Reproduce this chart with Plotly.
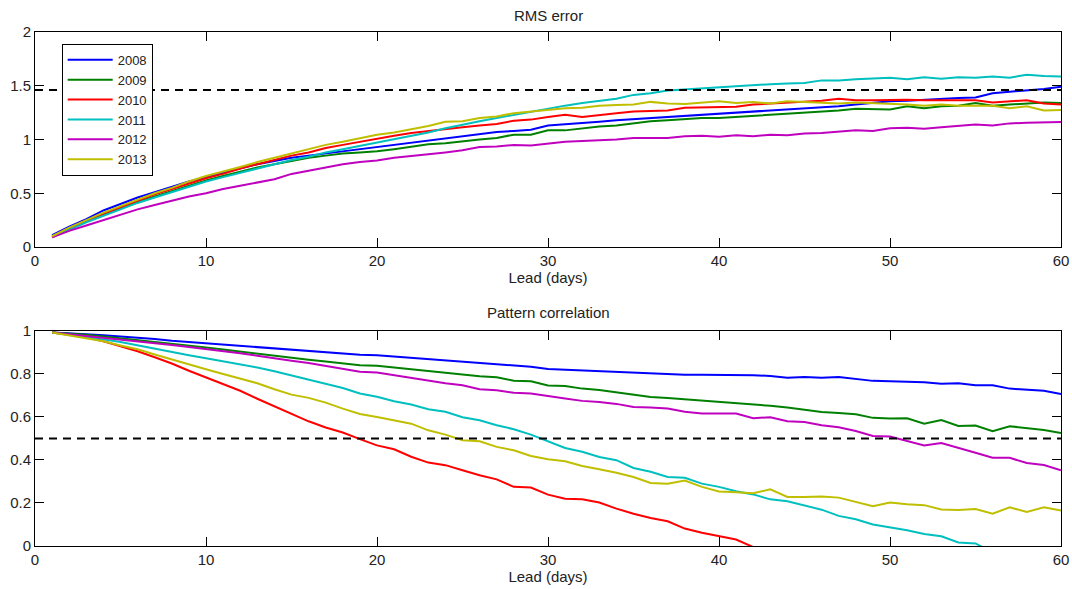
import plotly.graph_objects as go
from plotly.subplots import make_subplots

lead = list(range(1, 61))

years = ["2008", "2009", "2010", "2011", "2012", "2013"]
colors = ["#0000ff", "#008000", "#ff0000", "#00bfbf", "#bf00bf", "#bfbf00"]

# RMS error per year, lead 1..60
rms_2008 = [0.11, 0.19, 0.26, 0.34, 0.40, 0.46, 0.51, 0.56, 0.61, 0.65,
            0.69, 0.73, 0.77, 0.80, 0.83, 0.85, 0.87, 0.89, 0.91, 0.93,
            0.95, 0.97, 0.99, 1.01, 1.03, 1.05, 1.07, 1.08, 1.09, 1.13,
            1.14, 1.155, 1.165, 1.18, 1.19, 1.20, 1.21, 1.22, 1.23, 1.24,
            1.25, 1.255, 1.27, 1.275, 1.29, 1.30, 1.31, 1.325, 1.34, 1.355,
            1.36, 1.37, 1.375, 1.385, 1.39, 1.43, 1.445, 1.455, 1.47, 1.49]
rms_2009 = [0.10, 0.17, 0.24, 0.30, 0.36, 0.42, 0.47, 0.52, 0.57, 0.62,
            0.66, 0.70, 0.74, 0.77, 0.80, 0.83, 0.85, 0.87, 0.88, 0.89,
            0.91, 0.935, 0.955, 0.965, 0.985, 1.00, 1.015, 1.045, 1.045, 1.085,
            1.085, 1.105, 1.12, 1.13, 1.15, 1.17, 1.18, 1.19, 1.20, 1.20,
            1.21, 1.22, 1.225, 1.235, 1.245, 1.26, 1.27, 1.285, 1.285, 1.28,
            1.31, 1.29, 1.31, 1.315, 1.34, 1.315, 1.325, 1.335, 1.345, 1.34]
rms_2010 = [0.09, 0.17, 0.24, 0.31, 0.37, 0.43, 0.49, 0.54, 0.59, 0.64,
            0.68, 0.73, 0.77, 0.81, 0.85, 0.88, 0.92, 0.95, 0.98, 1.01,
            1.035, 1.06, 1.08, 1.10, 1.115, 1.13, 1.145, 1.175, 1.185, 1.21,
            1.23, 1.21, 1.23, 1.245, 1.26, 1.265, 1.27, 1.295, 1.30, 1.30,
            1.305, 1.325, 1.335, 1.345, 1.35, 1.36, 1.38, 1.365, 1.365, 1.37,
            1.37, 1.365, 1.365, 1.365, 1.365, 1.345, 1.355, 1.365, 1.335, 1.325]
rms_2011 = [0.10, 0.16, 0.23, 0.29, 0.35, 0.41, 0.46, 0.51, 0.56, 0.61,
            0.65, 0.69, 0.73, 0.77, 0.81, 0.84, 0.88, 0.91, 0.94, 0.97,
            1.00, 1.035, 1.065, 1.105, 1.14, 1.17, 1.20, 1.23, 1.26, 1.285,
            1.315, 1.34, 1.36, 1.38, 1.415, 1.43, 1.455, 1.465, 1.475, 1.485,
            1.495, 1.51, 1.515, 1.52, 1.525, 1.55, 1.55, 1.56, 1.57, 1.575,
            1.56, 1.578, 1.565, 1.578, 1.575, 1.585, 1.575, 1.603, 1.59, 1.587]
rms_2012 = [0.09, 0.15, 0.20, 0.25, 0.30, 0.35, 0.39, 0.43, 0.47, 0.50,
            0.54, 0.57, 0.60, 0.63, 0.68, 0.71, 0.74, 0.77, 0.79, 0.805,
            0.83, 0.845, 0.86, 0.88, 0.90, 0.93, 0.935, 0.95, 0.945, 0.965,
            0.98, 0.985, 0.99, 1.00, 1.015, 1.015, 1.015, 1.03, 1.035, 1.025,
            1.04, 1.03, 1.045, 1.04, 1.055, 1.06, 1.07, 1.085, 1.08, 1.105,
            1.11, 1.10, 1.115, 1.125, 1.14, 1.13, 1.15, 1.155, 1.16, 1.163]
rms_2013 = [0.10, 0.18, 0.25, 0.32, 0.38, 0.44, 0.50, 0.55, 0.61, 0.66,
            0.70, 0.745, 0.79, 0.83, 0.87, 0.91, 0.95, 0.98, 1.01, 1.045,
            1.065, 1.095, 1.125, 1.165, 1.17, 1.20, 1.215, 1.245, 1.26, 1.27,
            1.29, 1.295, 1.315, 1.32, 1.325, 1.35, 1.335, 1.33, 1.345, 1.355,
            1.34, 1.35, 1.335, 1.355, 1.35, 1.34, 1.335, 1.345, 1.34, 1.335,
            1.325, 1.315, 1.325, 1.315, 1.315, 1.315, 1.29, 1.31, 1.27, 1.275]

# pattern correlation per year, lead 1..60 (None once the curve is below 0)
cor_2008 = [0.993, 0.990, 0.985, 0.980, 0.975, 0.969, 0.963, 0.955, 0.949, 0.941,
            0.935, 0.929, 0.923, 0.917, 0.912, 0.906, 0.900, 0.894, 0.889, 0.887,
            0.881, 0.875, 0.869, 0.862, 0.856, 0.850, 0.844, 0.839, 0.834, 0.823,
            0.820, 0.816, 0.813, 0.808, 0.805, 0.802, 0.800, 0.797, 0.797, 0.797,
            0.794, 0.794, 0.791, 0.783, 0.786, 0.782, 0.786, 0.778, 0.768, 0.766,
            0.765, 0.762, 0.755, 0.757, 0.748, 0.748, 0.732, 0.726, 0.722, 0.707]
cor_2009 = [0.993, 0.988, 0.982, 0.974, 0.966, 0.958, 0.949, 0.940, 0.932, 0.923,
            0.914, 0.904, 0.895, 0.884, 0.875, 0.866, 0.858, 0.849, 0.841, 0.838,
            0.830, 0.822, 0.813, 0.805, 0.799, 0.790, 0.785, 0.769, 0.766, 0.747,
            0.744, 0.732, 0.726, 0.716, 0.705, 0.693, 0.688, 0.682, 0.676, 0.673,
            0.665, 0.658, 0.652, 0.644, 0.634, 0.623, 0.619, 0.613, 0.596, 0.593,
            0.594, 0.569, 0.586, 0.558, 0.560, 0.534, 0.557, 0.549, 0.540, 0.526]
cor_2010 = [0.993, 0.983, 0.971, 0.952, 0.930, 0.906, 0.878, 0.849, 0.815, 0.784,
            0.752, 0.722, 0.685, 0.650, 0.616, 0.580, 0.551, 0.528, 0.497, 0.468,
            0.450, 0.415, 0.388, 0.376, 0.352, 0.329, 0.310, 0.275, 0.272, 0.239,
            0.220, 0.217, 0.202, 0.174, 0.150, 0.130, 0.115, 0.081, 0.062, 0.047,
            0.030, -0.005, None, None, None, None, None, None, None, None,
            None, None, None, None, None, None, None, None, None, None]
cor_2011 = [0.993, 0.983, 0.974, 0.961, 0.949, 0.933, 0.918, 0.902, 0.887, 0.873,
            0.859, 0.845, 0.830, 0.813, 0.794, 0.776, 0.757, 0.735, 0.709, 0.694,
            0.673, 0.658, 0.636, 0.624, 0.599, 0.585, 0.562, 0.543, 0.518, 0.487,
            0.456, 0.438, 0.414, 0.399, 0.363, 0.345, 0.321, 0.317, 0.290, 0.275,
            0.255, 0.240, 0.217, 0.208, 0.190, 0.169, 0.140, 0.124, 0.100, 0.088,
            0.073, 0.056, 0.045, 0.016, 0.012, -0.03, None, None, None, None]
cor_2012 = [0.993, 0.985, 0.977, 0.969, 0.961, 0.954, 0.944, 0.935, 0.926, 0.917,
            0.907, 0.896, 0.885, 0.875, 0.862, 0.851, 0.838, 0.822, 0.810, 0.807,
            0.794, 0.782, 0.769, 0.757, 0.748, 0.729, 0.724, 0.713, 0.709, 0.696,
            0.686, 0.675, 0.670, 0.661, 0.647, 0.644, 0.639, 0.624, 0.616, 0.616,
            0.616, 0.594, 0.599, 0.580, 0.577, 0.562, 0.552, 0.535, 0.512, 0.509,
            0.487, 0.468, 0.479, 0.455, 0.434, 0.411, 0.410, 0.386, 0.377, 0.352]
cor_2013 = [0.993, 0.980, 0.968, 0.952, 0.933, 0.915, 0.891, 0.867, 0.843, 0.822,
            0.800, 0.778, 0.757, 0.729, 0.704, 0.689, 0.667, 0.639, 0.614, 0.600,
            0.585, 0.569, 0.538, 0.518, 0.492, 0.487, 0.461, 0.445, 0.419, 0.403,
            0.394, 0.372, 0.357, 0.341, 0.321, 0.293, 0.290, 0.304, 0.275, 0.254,
            0.250, 0.245, 0.264, 0.228, 0.228, 0.230, 0.225, 0.205, 0.185, 0.202,
            0.194, 0.190, 0.170, 0.168, 0.172, 0.150, 0.180, 0.158, 0.180, 0.165]

rms = [rms_2008, rms_2009, rms_2010, rms_2011, rms_2012, rms_2013]
cor = [cor_2008, cor_2009, cor_2010, cor_2011, cor_2012, cor_2013]

rms_ref = 1.46
cor_ref = 0.5

FONT = "Liberation Sans, Arial, Helvetica, sans-serif"

fig = make_subplots(rows=2, cols=1, vertical_spacing=0.1634)

for i in range(len(years)):
    fig.add_trace(go.Scatter(x=lead, y=rms[i], mode="lines", name=years[i],
                             line=dict(color=colors[i], width=2)), row=1, col=1)
for i in range(len(years)):
    fig.add_trace(go.Scatter(x=lead, y=cor[i], mode="lines", name=years[i],
                             showlegend=False, connectgaps=False,
                             line=dict(color=colors[i], width=2)), row=2, col=1)

fig.add_hline(y=rms_ref, line=dict(color="black", width=2, dash="8px,6px"), row=1, col=1)
fig.add_hline(y=cor_ref, line=dict(color="black", width=2, dash="8px,6px"), row=2, col=1)

axis_style = dict(showgrid=False, zeroline=False, showline=True, linecolor="black",
                  linewidth=1, mirror="ticks", ticks="inside", ticklen=9,
                  tickcolor="black", automargin=False,
                  tickfont=dict(size=15, color="#222"))

fig.update_xaxes(range=[0, 60], dtick=10, **axis_style)
fig.update_xaxes(title=dict(text="Lead (days)", font=dict(size=15, color="#222"), standoff=2))
fig.update_yaxes(range=[0, 2], dtick=0.5, row=1, col=1, **axis_style)
fig.update_yaxes(range=[0, 1], dtick=0.2, row=2, col=1, **axis_style)

fig.add_annotation(text="RMS error", x=0.5, y=1.0, xref="paper", yref="paper",
                   xanchor="center", yanchor="bottom", yshift=6, showarrow=False,
                   font=dict(size=15, color="#222"))
fig.add_annotation(text="Pattern correlation", x=0.5, y=0.4183, xref="paper", yref="paper",
                   xanchor="center", yanchor="bottom", yshift=8, showarrow=False,
                   font=dict(size=15, color="#222"))

fig.update_layout(
    width=1072, height=589,
    margin=dict(l=35, r=11, t=32, b=43),
    paper_bgcolor="white", plot_bgcolor="white",
    font=dict(family=FONT, size=15, color="#222"),
    showlegend=True,
    legend=dict(x=0.026, y=0.977, xanchor="left", yanchor="top",
                bordercolor="black", borderwidth=1, bgcolor="white",
                font=dict(size=13, color="#222"), tracegroupgap=0,
                itemwidth=45),
)

# drop the page's default body margin so the figure fills the window
fig.write_html("out.html", config={"displayModeBar": False},
               post_script="document.body.style.margin = '0';")
